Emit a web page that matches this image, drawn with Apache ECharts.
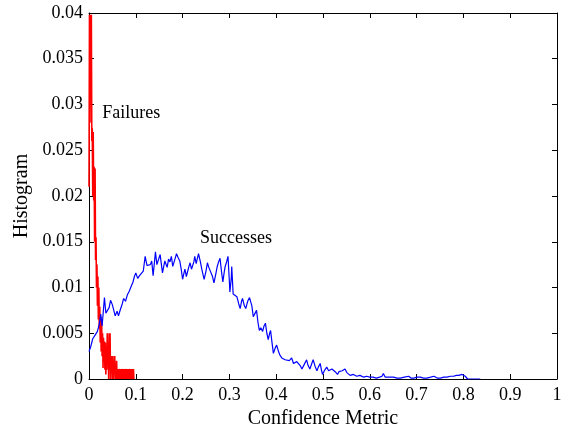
<!DOCTYPE html>
<html>
<head>
<meta charset="utf-8">
<script src="https://cdn.jsdelivr.net/npm/echarts@6/dist/echarts.min.js"></script>
<style>
  html, body { margin: 0; padding: 0; background: #fff; }
  #main { width: 565px; height: 429px; }
</style>
</head>
<body>
<div id="main"></div>
<script>
// confidence metric histograms
const failureBin = 0.001;
const failureHist = [
  0.0210, 0.0398, 0.0280, 0.0398, 0.0330, 0.0398, 0.0260, 0.0274, 0.0200, 0.0270,
  0.0195, 0.0232, 0.0150, 0.0230, 0.0130, 0.0155, 0.0100, 0.0125, 0.0080, 0.0112,
  0.0065, 0.0100, 0.0055, 0.0079, 0.0040, 0.0068, 0.0030, 0.0065, 0.0025, 0.0050,
  0.0012, 0.0045, 0.0020, 0.0041, 0.0010, 0.0040, 0.0005, 0.0030, 0.0010, 0.0050,
  0.0020, 0.0035, 0.0000, 0.0050, 0.0010, 0.0050, 0.0000, 0.0025, 0.0010, 0.0025,
  0.0000, 0.0025, 0.0000, 0.0020, 0.0010, 0.0025, 0.0000, 0.0015, 0.0000, 0.0020,
  0.0000, 0.0011, 0.0000, 0.0011, 0.0000, 0.0000, 0.0011, 0.0000, 0.0011, 0.0000,
  0.0011, 0.0000, 0.0000, 0.0011, 0.0000, 0.0011, 0.0000, 0.0011, 0.0000, 0.0000,
  0.0011, 0.0000, 0.0011, 0.0000, 0.0011, 0.0000, 0.0000, 0.0011, 0.0000, 0.0011,
  0.0000, 0.0011, 0.0000, 0.0011, 0.0000, 0.0011, 0.0000, 0.0000
];

const successX = [
  0.000, 0.003, 0.008, 0.013, 0.018, 0.022, 0.025, 0.028, 0.033, 0.036,
  0.040, 0.043, 0.046, 0.050, 0.053, 0.056, 0.060, 0.063, 0.067, 0.071,
  0.074, 0.078, 0.082, 0.086, 0.090, 0.094, 0.097, 0.100, 0.104, 0.108,
  0.112, 0.116, 0.120, 0.124, 0.127, 0.131, 0.134, 0.137, 0.142, 0.145,
  0.148, 0.152, 0.157, 0.162, 0.167, 0.170, 0.173, 0.176, 0.179, 0.183,
  0.187, 0.190, 0.194, 0.197, 0.200, 0.203, 0.205, 0.208, 0.210, 0.213,
  0.216, 0.219, 0.221, 0.224, 0.226, 0.229, 0.231, 0.234, 0.238, 0.241,
  0.246, 0.250, 0.253, 0.256, 0.260, 0.264, 0.267, 0.271, 0.274, 0.277,
  0.280, 0.283, 0.286, 0.289, 0.291, 0.294, 0.297, 0.300, 0.301, 0.304,
  0.305, 0.308, 0.312, 0.316, 0.320, 0.323, 0.326, 0.328, 0.332, 0.335,
  0.338, 0.340, 0.343, 0.345, 0.348, 0.351, 0.355, 0.358, 0.361, 0.364,
  0.367, 0.371, 0.374, 0.377, 0.380, 0.383, 0.386, 0.388, 0.391, 0.394,
  0.398, 0.401, 0.405, 0.408, 0.412, 0.415, 0.419, 0.423, 0.428, 0.433,
  0.437, 0.440, 0.444, 0.447, 0.452, 0.455, 0.460, 0.465, 0.468, 0.472,
  0.476, 0.479, 0.483, 0.487, 0.490, 0.494, 0.497, 0.499, 0.504, 0.508,
  0.512, 0.515, 0.519, 0.522, 0.526, 0.531, 0.534, 0.536, 0.541, 0.547,
  0.551, 0.554, 0.558, 0.561, 0.565, 0.568, 0.572, 0.575, 0.579, 0.582,
  0.587, 0.593, 0.600, 0.607, 0.614, 0.621, 0.626, 0.629, 0.633, 0.637,
  0.644, 0.651, 0.658, 0.665, 0.674, 0.683, 0.688, 0.694, 0.701, 0.708,
  0.715, 0.722, 0.730, 0.737, 0.744, 0.751, 0.758, 0.765, 0.772, 0.779,
  0.785, 0.790, 0.797, 0.800, 0.804, 0.809, 0.822, 0.836
];
const successY = [
  0.0030, 0.0034, 0.0044, 0.0048, 0.0052, 0.0060, 0.0071, 0.0058, 0.0089, 0.0072,
  0.0071, 0.0078, 0.0086, 0.0081, 0.0080, 0.0069, 0.0074, 0.0069, 0.0076, 0.0082,
  0.0088, 0.0085, 0.0092, 0.0096, 0.0101, 0.0106, 0.0112, 0.0116, 0.0110, 0.0113,
  0.0111, 0.0118, 0.0134, 0.0124, 0.0126, 0.0125, 0.0129, 0.0113, 0.0139, 0.0125,
  0.0123, 0.0136, 0.0116, 0.0129, 0.0122, 0.0131, 0.0128, 0.0134, 0.0123, 0.0130,
  0.0137, 0.0133, 0.0129, 0.0120, 0.0109, 0.0116, 0.0120, 0.0112, 0.0113, 0.0122,
  0.0127, 0.0120, 0.0118, 0.0128, 0.0134, 0.0126, 0.0125, 0.0137, 0.0128, 0.0120,
  0.0109, 0.0118, 0.0127, 0.0122, 0.0120, 0.0112, 0.0105, 0.0115, 0.0123, 0.0128,
  0.0132, 0.0118, 0.0106, 0.0117, 0.0123, 0.0128, 0.0134, 0.0106, 0.0095, 0.0110,
  0.0123, 0.0093, 0.0092, 0.0090, 0.0082, 0.0077, 0.0085, 0.0088, 0.0080, 0.0077,
  0.0083, 0.0086, 0.0089, 0.0090, 0.0080, 0.0068, 0.0072, 0.0075, 0.0062, 0.0053,
  0.0056, 0.0052, 0.0058, 0.0061, 0.0050, 0.0043, 0.0050, 0.0053, 0.0040, 0.0028,
  0.0034, 0.0037, 0.0030, 0.0026, 0.0023, 0.0021, 0.0021, 0.0020, 0.0020, 0.0023,
  0.0017, 0.0015, 0.0019, 0.0021, 0.0014, 0.0011, 0.0016, 0.0021, 0.0015, 0.0011,
  0.0017, 0.0021, 0.0014, 0.0009, 0.0013, 0.0017, 0.0009, 0.0005, 0.0010, 0.0013,
  0.0009, 0.0007, 0.0011, 0.0012, 0.0008, 0.0005, 0.0008, 0.0010, 0.0009, 0.0011,
  0.0007, 0.0005, 0.0004, 0.0003, 0.0005, 0.0006, 0.0003, 0.0002, 0.0004, 0.0004,
  0.0002, 0.0003, 0.0002, 0.0002, 0.0001, 0.0002, 0.0003, 0.0006, 0.0002, 0.0001,
  0.0002, 0.0002, 0.0001, 0.0001, 0.0002, 0.0003, 0.0001, 0.0001, 0.0002, 0.0002,
  0.0001, 0.0001, 0.0002, 0.0003, 0.0001, 0.0001, 0.0002, 0.0002, 0.0003, 0.0003,
  0.0004, 0.0004, 0.0005, 0.0004, 0.0003, 0.0000, 0.0000, 0.0000
];

const seriesLabels = [
  { text: "Failures", x: 0.0284, y: 0.0285 },
  { text: "Successes", x: 0.237, y: 0.01483 },
];

const font = "Liberation Serif";

const failureData = failureHist.map((v, i) => [i * failureBin, v]);
const successData = successX.map((x, i) => [x, successY[i]]);

const chart = echarts.init(document.getElementById("main"));

const axisCommon = {
  type: "value",
  axisLine: { show: true, onZero: false, lineStyle: { color: "#000", width: 1 } },
  axisTick: { show: true, inside: true, length: 5, lineStyle: { color: "#000" } },
  splitLine: { show: false },
};

chart.setOption({
  animation: false,
  backgroundColor: "#fff",
  grid: { left: 89, right: 8, top: 13, bottom: 50, containLabel: false, outerBoundsMode: "none" },
  xAxis: [
    {
      ...axisCommon,
      min: 0,
      max: 1,
      interval: 0.1,
      position: "bottom",
      name: "Confidence Metric",
      nameLocation: "middle",
      nameGap: 28,
      nameTextStyle: { fontFamily: font, fontSize: 20, color: "#000" },
      axisLabel: { fontFamily: font, fontSize: 18, color: "#000", margin: 7 },
    },
    {
      ...axisCommon,
      min: 0,
      max: 1,
      interval: 0.1,
      position: "top",
      axisLabel: { show: false },
    },
  ],
  yAxis: [
    {
      ...axisCommon,
      min: 0,
      max: 0.04,
      interval: 0.005,
      position: "left",
      name: "Histogram",
      nameLocation: "middle",
      nameGap: 57,
      nameTextStyle: { fontFamily: font, fontSize: 20, color: "#000" },
      axisLabel: { fontFamily: font, fontSize: 18, color: "#000", margin: 6 },
    },
    {
      ...axisCommon,
      min: 0,
      max: 0.04,
      interval: 0.005,
      position: "right",
      axisLabel: { show: false },
    },
  ],
  series: [
    {
      name: "Failures",
      type: "line",
      data: failureData,
      showSymbol: false,
      symbol: "none",
      lineStyle: { color: "#ff0000", width: 1.6 },
      clip: true,
    },
    {
      name: "Successes",
      type: "line",
      data: successData,
      showSymbol: false,
      symbol: "none",
      lineStyle: { color: "#0000ff", width: 1.2 },
      clip: true,
    },
  ],
});

// text labels placed at data coordinates
const graphics = seriesLabels.map((lab) => {
  const p = chart.convertToPixel({ xAxisIndex: 0, yAxisIndex: 0 }, [lab.x, lab.y]);
  return {
    type: "text",
    x: p[0],
    y: p[1] + 4,
    style: {
      text: lab.text,
      fontFamily: font,
      fontSize: 18,
      fill: "#000",
      align: "left",
      verticalAlign: "bottom",
    },
  };
});
chart.setOption({ graphic: graphics });
</script>
</body>
</html>
